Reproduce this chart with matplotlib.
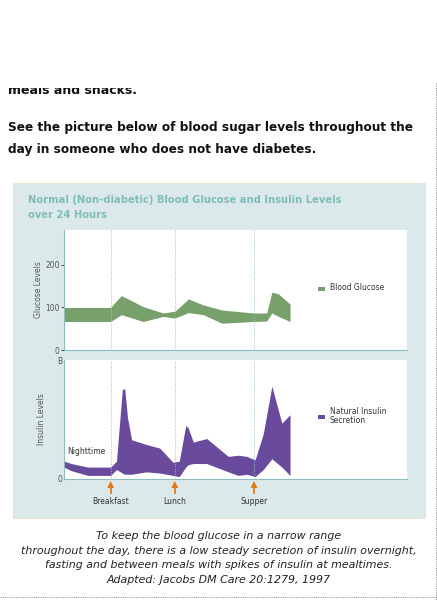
import matplotlib
matplotlib.use("Agg")
import matplotlib.pyplot as plt
from matplotlib.patches import Rectangle
import numpy as np

W, H = 437, 600
# time in arbitrary units 0..100 across the plot width
t_gl = [0, 13.6, 16.7, 23.1, 28.9, 32.3, 36.3, 40.6, 46.0, 55.2, 59.1, 60.6, 62.5, 65.9]
gl_hi = [100, 100, 128, 102, 87, 91, 120, 106, 94, 87, 87, 136, 132, 108]
gl_lo = [67, 67, 83, 67, 79, 75, 88, 83, 63, 67, 68, 87, 79, 67]

t_in = [0, 2.1, 7.0, 13.6, 15.3, 17.0, 17.7, 18.5, 19.7, 24.0, 27.9, 31.8, 33.6, 35.5, 36.2, 37.7, 41.6, 47.9, 50.8, 53.3, 55.7, 58.1, 60.6, 63.5, 65.9]
in_hi = [15, 13, 10, 10, 15, 75, 76, 52, 33, 29, 26, 14, 15, 45, 43, 31, 34, 19, 20, 19, 16, 38, 78, 47, 54]
in_lo = [10, 7, 3, 3, 8, 5, 4, 4, 4, 6, 5, 3, 2, 10, 12, 13, 13, 6, 3, 4, 2, 8, 17, 10, 3]

meals = ["Breakfast", "Lunch", "Supper"]
meal_t = [13.6, 32.3, 55.4]

fig = plt.figure(figsize=(W/100, H/100), dpi=100)
fig.patch.set_facecolor("white")

def fx(x): return x / W
def fy(y): return 1 - y / H

def add_ax(x0, y0, x1, y1, **kw):
    return fig.add_axes([fx(x0), fy(y1), (x1 - x0) / W, (y1 - y0) / H], **kw)

# background panel
bg = add_ax(13, 183, 426, 519)
bg.set_xlim(0, 1); bg.set_ylim(0, 1); bg.axis("off")
bg.add_patch(Rectangle((0, 0), 1, 1, facecolor="#dce9ea", edgecolor="#e8e2d0", lw=1.5))

fig.text(fx(28), fy(200), "Normal (Non-diabetic) Blood Glucose and Insulin Levels",
         color="#7fbdb8", fontsize=7.2, fontweight="bold", va="center")
fig.text(fx(28), fy(215), "over 24 Hours", color="#7fbdb8", fontsize=7.2,
         fontweight="bold", va="center")

spine_c = "#8fbcbc"
ax1 = add_ax(64, 230, 407, 350)
ax2 = add_ax(64, 360, 407, 479)
for ax in (ax1, ax2):
    ax.set_facecolor("white")
    ax.set_xlim(0, 100)
    for s in ("top", "right"):
        ax.spines[s].set_visible(False)
    ax.spines["left"].set_color(spine_c)
    ax.spines["bottom"].set_color(spine_c)
    ax.tick_params(axis="x", bottom=False, labelbottom=False)
    ax.tick_params(axis="y", labelsize=5.5, colors="#555555", length=2, pad=1)
    for m in meal_t:
        ax.axvline(m, color="#9cc3c8", lw=0.7, ls=(0, (1, 1.5)))

ax1.set_ylim(0, 282)
ax1.set_yticks([0, 100, 200])
ax1.fill_between(t_gl, gl_lo, gl_hi, color="#77a06a", lw=0)
ax1.set_ylabel("Glucose Levels", fontsize=5.5, color="#555555", labelpad=2)

ax2.set_ylim(0, 100)
ax2.set_yticks([0, 100])
ax2.set_yticklabels(["0", "B"])
ax2.tick_params(axis="y", length=0)
ax2.fill_between(t_in, in_lo, in_hi, color="#6a4a9c", lw=0)
ax2.set_ylabel("Insulin Levels", fontsize=5.5, color="#555555", labelpad=8)
ax2.text(1, 19, "Nighttime", fontsize=5.5, color="#333333", va="bottom")

# legends
fig.add_artist(Rectangle((fx(318), fy(290.5)), 7/W, 4/H, transform=fig.transFigure,
                         facecolor="#77a06a", edgecolor="none"))
fig.text(fx(330), fy(288), "Blood Glucose", fontsize=5.5, color="#333333", va="center")
fig.add_artist(Rectangle((fx(318), fy(419)), 7/W, 4/H, transform=fig.transFigure,
                         facecolor="#6a4a9c", edgecolor="none"))
fig.text(fx(330), fy(416), "Natural Insulin\nSecretion", fontsize=5.5, color="#333333",
         va="center", linespacing=1.0)

# meal arrows and labels
for name, m in zip(meals, meal_t):
    x = 64 + m / 100 * (407 - 64)
    fig.add_artist(plt.Line2D([fx(x), fx(x)], [fy(493), fy(485)], color="#e07b1a", lw=1.3))
    fig.add_artist(plt.Polygon([[fx(x - 3.5), fy(488)], [fx(x + 3.5), fy(488)],
                                [fx(x), fy(481)]], closed=True, transform=fig.transFigure,
                               facecolor="#e07b1a", edgecolor="none"))
    fig.text(fx(x), fy(501), name, fontsize=5.5, color="#333333", ha="center", va="center")

# page text (first line cut off at top)
fig.text(fx(8), fy(90), "meals and snacks.", fontsize=9, fontweight="bold",
         color="#111111", va="center", zorder=2)
fig.add_artist(Rectangle((0, fy(88)), 1, 88/H, transform=fig.transFigure,
                         facecolor="white", edgecolor="none", zorder=10))
fig.text(fx(8), fy(128), "See the picture below of blood sugar levels throughout the",
         fontsize=8.7, fontweight="bold", color="#111111", va="center")
fig.text(fx(8), fy(149), "day in someone who does not have diabetes.",
         fontsize=8.7, fontweight="bold", color="#111111", va="center")

caption = ["To keep the blood glucose in a narrow range",
           "throughout the day, there is a low steady secretion of insulin overnight,",
           "fasting and between meals with spikes of insulin at mealtimes.",
           "Adapted: Jacobs DM Care 20:1279, 1997"]
for i, line in enumerate(caption):
    fig.text(fx(219), fy(536 + 14.7 * i), line, fontsize=7.9, style="italic",
             color="#222222", ha="center", va="center")

# dashed page borders
fig.add_artist(plt.Line2D([fx(435.5), fx(435.5)], [fy(83), fy(600)], color="#999999",
                          lw=0.8, ls=(0, (1, 1)), zorder=11))
fig.add_artist(plt.Line2D([0, fx(436)], [fy(597), fy(597)], color="#999999",
                          lw=0.8, ls=(0, (1, 1))))

fig.savefig("out.png", dpi=100, facecolor="white")
